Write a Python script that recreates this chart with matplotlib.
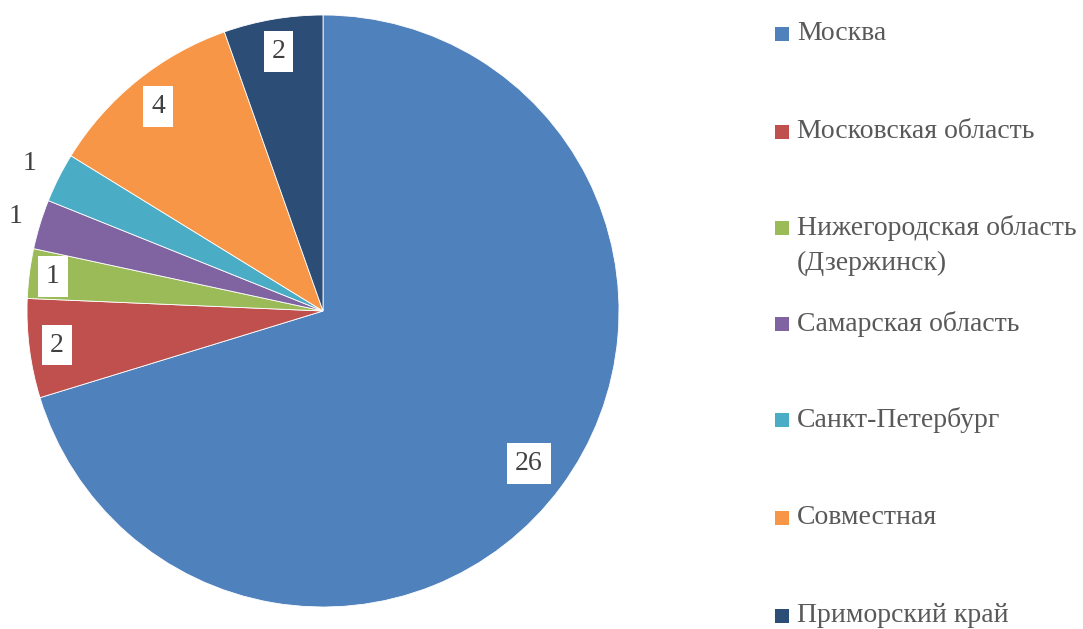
import numpy as np
import matplotlib
matplotlib.use("Agg")
from matplotlib import pyplot as plt
from matplotlib import font_manager as fm
from matplotlib.patches import Rectangle

regions = ["Москва", "Московская область", "Нижегородская область\n(Дзержинск)",
           "Самарская область", "Санкт-Петербург", "Совместная", "Приморский край"]
counts = [26, 2, 1, 1, 1, 4, 2]
colors = ["#4F81BD", "#C0504D", "#9BBB59", "#8064A2", "#4BACC6", "#F79646", "#2C4D75"]
# radial position of each data label (fraction of radius)
label_dist = [0.865, 0.906, 0.92, 1.085, 1.11, 0.887, 0.89]
label_boxed = [True, True, True, False, False, True, True]

font_path = fm.findfont(fm.FontProperties(family="Liberation Serif"))
label_font = fm.FontProperties(fname=font_path, size=20)
legend_font = fm.FontProperties(fname=font_path, size=20)

W, H = 1083, 629
fig = plt.figure(figsize=(W / 100, H / 100), dpi=100)
cx, cy, r = 323, 311, 296
ax = fig.add_axes([(cx - r) / W, (H - cy - r) / H, 2 * r / W, 2 * r / H])

wedges, _ = ax.pie(counts, colors=colors, startangle=90, counterclock=False,
                   radius=1, wedgeprops=dict(edgecolor="white", linewidth=0.6))
ax.set_xlim(-1, 1)
ax.set_ylim(-1, 1)
ax.set_aspect("equal")
ax.axis("off")

for w, val, d, boxed in zip(wedges, counts, label_dist, label_boxed):
    mid = np.deg2rad((w.theta1 + w.theta2) / 2)
    kw = {}
    if boxed:
        kw["bbox"] = dict(facecolor="white", edgecolor="none", boxstyle="square,pad=0.28")
    ax.text(d * np.cos(mid), d * np.sin(mid), str(val), ha="center", va="center",
            fontproperties=label_font, color="#404040", clip_on=False, **kw)

# legend on the right
leg_y = [34, 132, 228, 324, 420, 518, 616]
for lab, col, y in zip(regions, colors, leg_y):
    fig.patches.append(Rectangle((775 / W, 1 - (y + 7) / H), 14 / W, 14 / H,
                                 transform=fig.transFigure, facecolor=col,
                                 edgecolor="none"))
    for k, line in enumerate(lab.split("\n")):
        fig.text(797 / W, 1 - (y + 35 * k) / H, line, ha="left", va="center",
                 fontproperties=legend_font, color="#595959")

fig.savefig("out.png", dpi=100)
